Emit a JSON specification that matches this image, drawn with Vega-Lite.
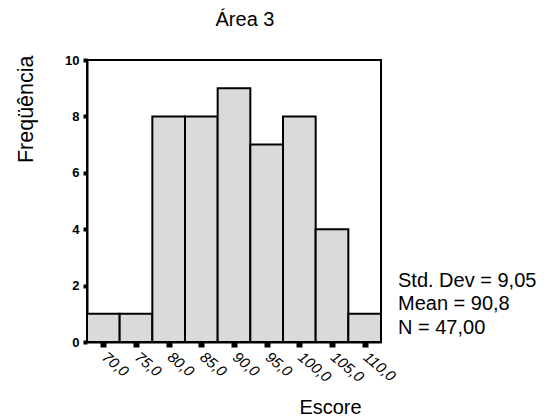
{
  "$schema": "https://vega.github.io/schema/vega-lite/v6.json",
  "autosize": {"type": "none"},
  "width": 294,
  "height": 282,
  "padding": {"left": 87, "top": 60, "right": 177, "bottom": 76},
  "background": "white",
  "config": {
    "font": "Liberation Sans",
    "view": {"stroke": "black", "strokeWidth": 2}
  },
  "title": {
    "text": "Área 3",
    "anchor": "middle",
    "frame": "group",
    "dx": 11,
    "offset": 8,
    "baseline": "alphabetic",
    "fontSize": 20,
    "fontWeight": "normal",
    "font": "Liberation Sans",
    "color": "black"
  },
  "resolve": {"axis": {"x": "independent", "y": "independent"}},
  "layer": [
    {
      "data": {
        "values": [
          {"bin_start": 67.5, "bin_end": 72.5, "count": 1},
          {"bin_start": 72.5, "bin_end": 77.5, "count": 1},
          {"bin_start": 77.5, "bin_end": 82.5, "count": 8},
          {"bin_start": 82.5, "bin_end": 87.5, "count": 8},
          {"bin_start": 87.5, "bin_end": 92.5, "count": 9},
          {"bin_start": 92.5, "bin_end": 97.5, "count": 7},
          {"bin_start": 97.5, "bin_end": 102.5, "count": 8},
          {"bin_start": 102.5, "bin_end": 107.5, "count": 4},
          {"bin_start": 107.5, "bin_end": 112.5, "count": 1}
        ]
      },
      "mark": {"type": "bar", "fill": "#dadada", "stroke": "black", "strokeWidth": 2},
      "encoding": {
        "x": {
          "field": "bin_start",
          "type": "quantitative",
          "scale": {"domain": [67.5, 112.5], "nice": false, "zero": false},
          "axis": {
            "values": [70, 75, 80, 85, 90, 95, 100, 105, 110],
            "labelExpr": "replace(format(datum.value, '.1f'), '.', ',')",
            "labelOverlap": false,
            "labelAngle": 40,
            "labelAlign": "left",
            "labelBaseline": "top",
            "labelPadding": 2,
            "labelOffset": 5,
            "labelFontSize": 15,
            "labelFontStyle": "italic",
            "labelColor": "black",
            "domainColor": "black",
            "domainWidth": 2,
            "tickColor": "black",
            "tickWidth": 6,
            "tickSize": 5,
            "grid": false,
            "title": "Escore",
            "titleFontSize": 20,
            "titleFontWeight": "normal",
            "titleColor": "black",
            "titleX": 243,
            "titleY": 71,
            "titleAlign": "center",
            "titleBaseline": "alphabetic"
          }
        },
        "x2": {"field": "bin_end"},
        "y": {
          "field": "count",
          "type": "quantitative",
          "scale": {"domain": [0, 10], "nice": false},
          "axis": {
            "values": [0, 2, 4, 6, 8, 10],
            "labelFontSize": 13,
            "labelFontWeight": "bold",
            "labelColor": "black",
            "labelPadding": 4,
            "domainColor": "black",
            "domainWidth": 2,
            "tickColor": "black",
            "tickWidth": 4,
            "tickSize": 4,
            "grid": false,
            "title": "Freqüência",
            "titleFontSize": 21.5,
            "titleFontWeight": "normal",
            "titleColor": "black",
            "titleAngle": -90,
            "titleX": -55,
            "titleY": -5,
            "titleAlign": "right",
            "titleBaseline": "alphabetic"
          }
        },
        "y2": {"datum": 0}
      }
    },
    {
      "data": {
        "values": [
          {"stats": ["Std. Dev = 9,05", "Mean = 90,8", "N = 47,00"]}
        ]
      },
      "mark": {
        "type": "text",
        "align": "left",
        "baseline": "alphabetic",
        "fontSize": 20,
        "fontWeight": "normal",
        "lineHeight": 23.3,
        "font": "Liberation Sans",
        "color": "black"
      },
      "encoding": {
        "text": {"field": "stats"},
        "x": {"datum": 115.1, "type": "quantitative", "axis": null},
        "y": {"datum": 1.95, "type": "quantitative", "axis": null}
      }
    }
  ]
}
